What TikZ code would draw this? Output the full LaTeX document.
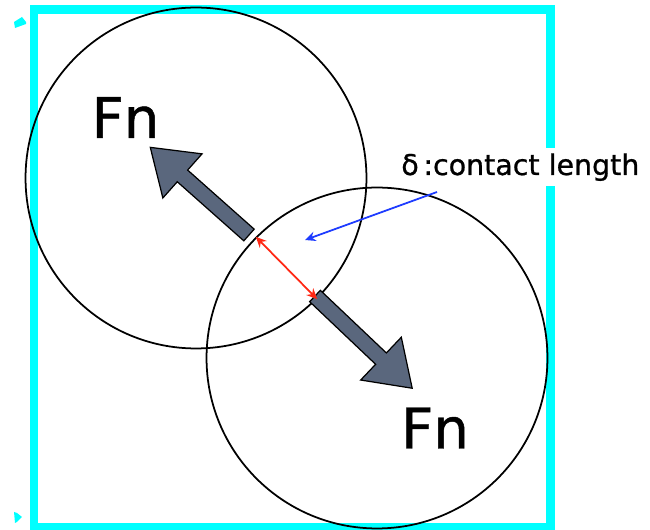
\documentclass[tikz,border=0pt]{standalone}
\usepackage{fontspec}
\setmainfont{DejaVu Sans}[FakeBold=0.8]
\usetikzlibrary{arrows.meta}
\definecolor{slate}{RGB}{90,103,125}
\definecolor{frame}{RGB}{0,255,255}
\definecolor{gapred}{RGB}{255,40,20}
\definecolor{pointer}{RGB}{30,60,255}

\begin{document}
\begin{tikzpicture}[x=0.02cm, y=-0.02cm, >={Stealth[length=6pt, width=5.5pt]},
  particle/.style={draw, circle, line width=1pt, minimum size=6.82cm, inner sep=0pt},
  force/.style={draw=black, line width=0.7pt, fill=slate, line join=miter},
  fnlabel/.style={inner sep=0pt, font=\fontsize{32}{36}\selectfont},
  note/.style={fill=white, inner sep=0.1cm, font=\fontsize{16.2}{19}\selectfont}]
\useasboundingbox (0,0) rectangle (650,530);
% container
\draw[frame, line width=0.18cm] (34,10) rectangle (550,527);
\fill[frame] (14,22) -- (22,17) -- (26,22) -- (26,24) -- (15,28) -- cycle;
\fill[frame] (14,512) -- (17,513) -- (22,517) -- (17,522) -- (15,523) -- cycle;
% particles
\node[particle] (p1) at (196,178) {};
\node[particle] (p2) at (377,358) {};
% normal forces
\foreach \x/\y/\a/\l in {249/235/138.4/132, 315/296/-43.5/134}
  \draw[force, shift={(\x,\y)}, rotate=\a]
    (0,-7.8) -- (\l-43,-7.8) -- (\l-43,-29.5) -- (\l,0)
    -- (\l-43,29.5) -- (\l-43,7.8) -- (0,7.8) -- cycle;
\node[fnlabel] (fn1) at (125.5,117.5) {Fn};
\node[fnlabel] (fn2) at (435,428) {Fn};
% overlap
\draw[gapred, line width=1pt, <->] (p2.135) -- (p1.-45);
\node[note, anchor=base west] (delta) at (396,175) {δ\thinspace:contact length};
\coordinate (foot) at (437,192);
\coordinate (lens) at (305,240);
\draw[pointer, line width=1pt, ->] (foot) -- (lens);
\end{tikzpicture}
\end{document}
